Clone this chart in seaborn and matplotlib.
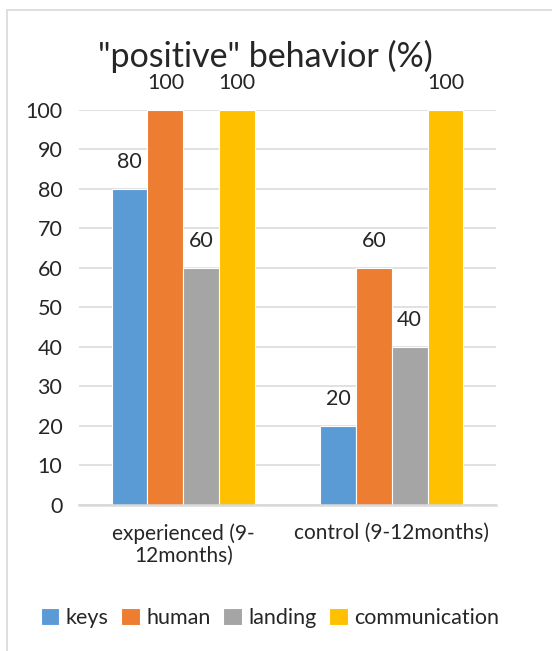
import pandas as pd
import seaborn as sns
import matplotlib.pyplot as plt
from matplotlib.lines import Line2D

# Data
groups = ['experienced (9-\n12months)', 'control (9-12months)']
series = ['keys', 'human', 'landing', 'communication']
keys = [80, 20]
human = [100, 60]
landing = [60, 40]
communication = [100, 100]
colors = ['#5B9BD5', '#ED7D31', '#A5A5A5', '#FFC000']

df = pd.DataFrame({
    'group': groups * 4,
    'series': [s for s in series for _ in groups],
    'value': keys + human + landing + communication,
})

sns.set_style('white')
plt.rcParams['font.family'] = ['Lato', 'DejaVu Sans']

fig = plt.figure(figsize=(5.52, 6.51), dpi=100)
ax = fig.add_axes([0.1431, 0.2243, 0.7555, 0.6068])

sns.barplot(data=df, x='group', y='value', hue='series', hue_order=series,
            palette=colors, saturation=1, width=0.686, edgecolor='white',
            linewidth=0.8, ax=ax, legend=True)

ax.set_ylim(0, 100)
ax.set_yticks(range(0, 101, 10))
ax.yaxis.grid(True, color='#D9D9D9', linewidth=1.1)
ax.set_axisbelow(True)
for side in ['left', 'right', 'top']:
    ax.spines[side].set_visible(False)
ax.spines['bottom'].set_color('#D9D9D9')
ax.spines['bottom'].set_linewidth(1.8)
ax.set_xlabel('')
ax.set_ylabel('')
ax.tick_params(axis='y', length=0, pad=12, labelsize=15.5, labelcolor='#262626')
ax.tick_params(axis='x', length=0, pad=13, labelsize=15, labelcolor='#262626')
for lbl in ax.get_xticklabels():
    lbl.set_linespacing(1.15)

# Data labels
for c in ax.containers:
    ax.bar_label(c, fmt='%d', padding=12, fontsize=15.5, color='#262626')

# Legend at the bottom
handles, labels = ax.get_legend_handles_labels()
ax.get_legend().remove()
fig.legend(handles, labels, loc='center', bbox_to_anchor=(0.489, 1 - 618 / 651),
           ncol=4, frameon=False, fontsize=15.5, handlelength=0.85, handleheight=0.85,
           handletextpad=0.3, columnspacing=0.6, labelcolor='#262626')

# Title
fig.text(0.48, 1 - 56 / 651, '"positive" behavior (%)', ha='center', va='center',
         fontsize=24.5, color='#262626')

# Chart border (left and top edges visible)
fig.add_artist(Line2D([7 / 552, 7 / 552], [0, 1 - 10 / 651], transform=fig.transFigure,
                      color='#D9D9D9', linewidth=1.2))
fig.add_artist(Line2D([7 / 552, 1], [1 - 10 / 651, 1 - 10 / 651], transform=fig.transFigure,
                      color='#D9D9D9', linewidth=1.2))

fig.savefig('out.png', dpi=100)
